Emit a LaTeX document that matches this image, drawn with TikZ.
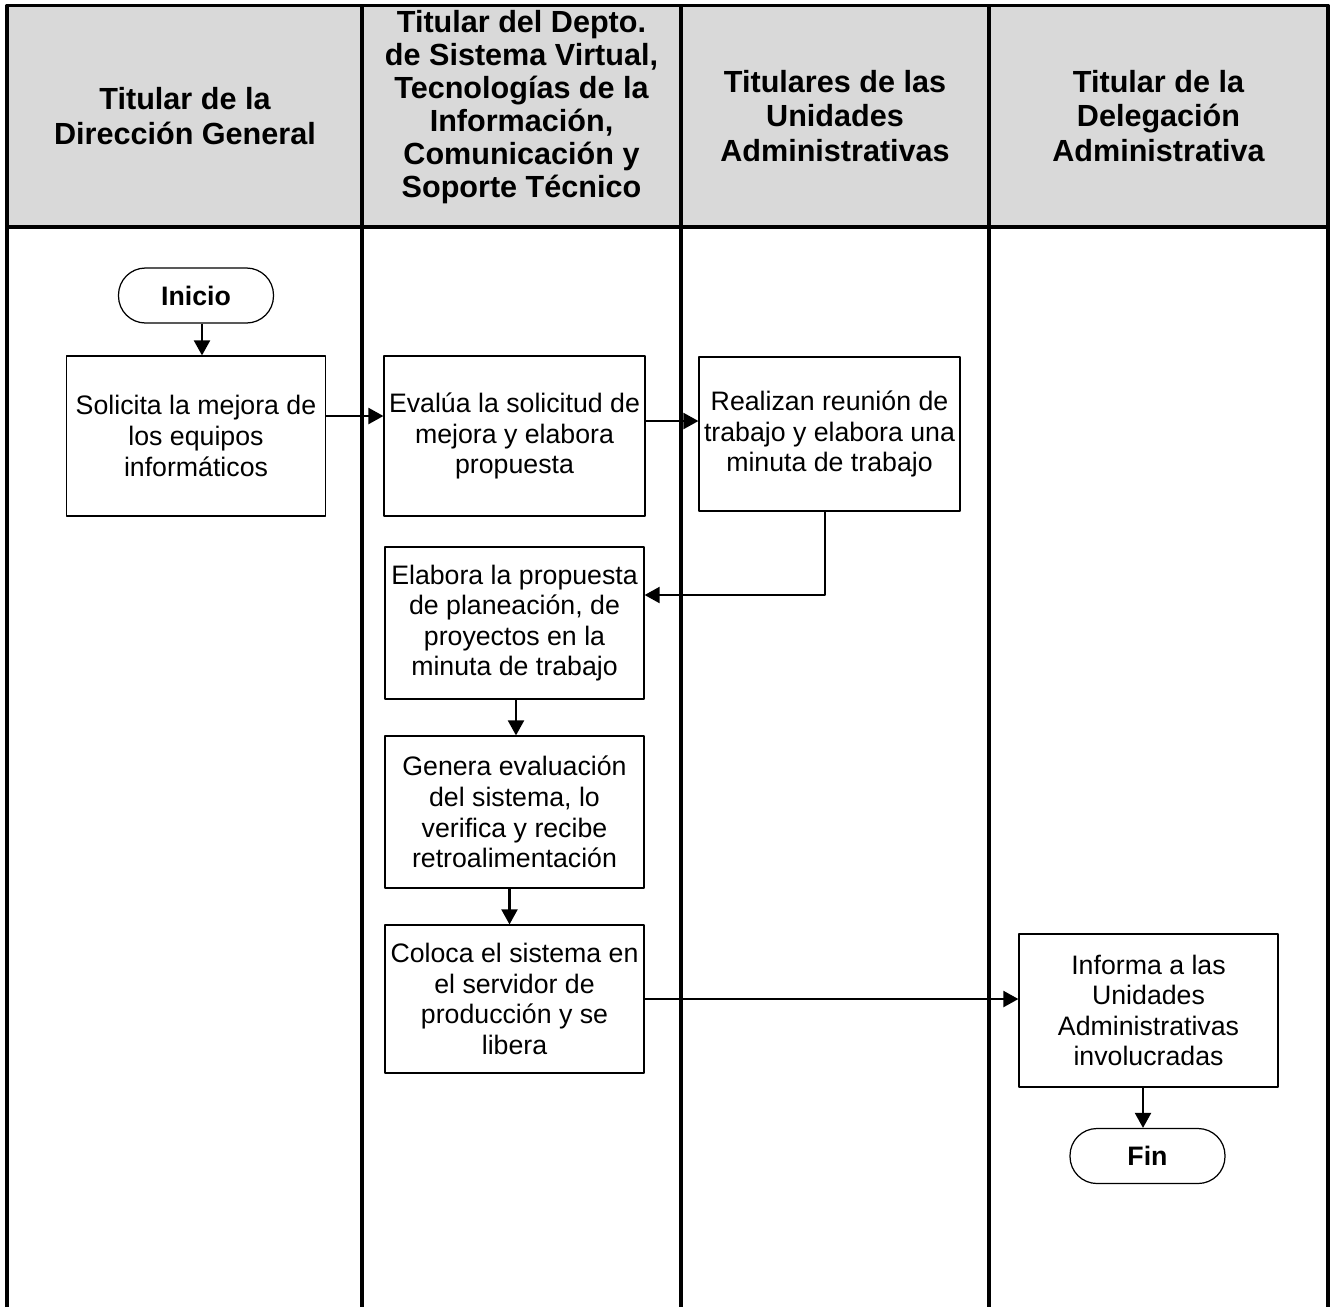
\documentclass[tikz,border=0pt]{standalone}
\usepackage{fontspec}
\setmainfont{Liberation Sans}
\usetikzlibrary{arrows.meta}
\definecolor{cabecera}{HTML}{D9D9D9}

\begin{document}
\begin{tikzpicture}[>={Triangle[length=1.5mm,width=1.6mm]}, line join=round, font=\fontsize{7.6}{8.7}\selectfont,
		carril/.style={line width=0.9pt},
		titulo/.style={font=\fontsize{8.7}{9.9}\selectfont\bfseries, align=center},
		caja/.style={draw, line width=0.35pt, align=center, inner sep=0.5mm, minimum width=2.59cm, minimum height=#1},
		terminal/.style={draw, line width=0.35pt, rounded corners=2.7mm, minimum width=1.55cm, minimum height=0.55cm, font=\fontsize{7.6}{8.7}\selectfont\bfseries},
		flecha/.style={->, line width=0.6pt}]
		\useasboundingbox (0,0) rectangle (13.31,-13.07);
		% Carriles
		\fill[cabecera] (0.07,-0.055) rectangle (13.28,-2.27);
		\draw[carril] (0.07,-13.07) -- (0.07,-0.055) -- (13.28,-0.055) -- (13.28,-13.07);
		\draw[carril] (0.07,-2.27) -- (13.28,-2.27);
		\foreach \x in {3.62,6.81,9.89}
			\draw[carril] (\x,-0.055) -- (\x,-13.07);
		% Encabezados
		\node[titulo] (tdirgral) at (1.85,-1.16) {Titular de la\\Dirección General};
		\node[titulo, font=\fontsize{8.7}{9.35}\selectfont\bfseries] (tdepto) at (5.215,-1.07) {Titular del Depto.\\de Sistema Virtual,\\Tecnologías de la\\Información,\\Comunicación y\\Soporte Técnico};
		\node[titulo] (tunidades) at (8.35,-1.16) {Titulares de las\\Unidades\\Administrativas};
		\node[titulo] (tdelegacion) at (11.585,-1.16) {Titular de la\\Delegación\\Administrativa};
		% Actividades
		\node[terminal] (inicio) at (1.96,-2.955) {Inicio};
		\node[caja=1.60cm] (solicita) at (1.96,-4.36) {Solicita la mejora de\\los equipos\\informáticos};
		\node[caja=1.60cm] (evalua) at (5.145,-4.36) {Evalúa la solicitud de\\mejora y elabora\\propuesta};
		\node[caja=1.54cm] (reunion) at (8.295,-4.34) {Realizan reunión de\\trabajo y elabora una\\minuta de trabajo};
		\node[caja=1.52cm] (propuesta) at (5.145,-6.23) {Elabora la propuesta\\de planeación, de\\proyectos en la\\minuta de trabajo};
		\node[caja=1.52cm] (genera) at (5.145,-8.12) {Genera evaluación\\del sistema, lo\\verifica y recibe\\retroalimentación};
		\node[caja=1.48cm] (coloca) at (5.145,-9.99) {Coloca el sistema en\\el servidor de\\producción y se\\libera};
		\node[caja=1.53cm] (informa) at (11.485,-10.105) {Informa a las\\Unidades\\Administrativas\\involucradas};
		\node[terminal] (fin) at (11.475,-11.56) {Fin};
		% Conectores
		\draw[flecha] ([xshift=0.6mm]inicio.south) -- ([xshift=0.6mm]solicita.north);
		\draw[flecha] ([yshift=2mm]solicita.east) -- ([yshift=2mm]evalua.west);
		\draw[flecha] ([yshift=1.5mm]evalua.east) -- ([yshift=1.5mm]evalua.east -| reunion.west);
		\draw[flecha] ([xshift=-0.45mm]reunion.south) |- ([yshift=2.8mm]propuesta.east);
		\draw[flecha] ([xshift=0.15mm]propuesta.south) -- ([xshift=0.15mm]genera.north);
		\draw[flecha] ([xshift=-0.5mm]genera.south) -- ([xshift=-0.5mm]coloca.north);
		\draw[flecha] (coloca.east) -- (coloca.east -| informa.west);
		\draw[flecha] ([xshift=-0.55mm]informa.south) -- ([xshift=-0.55mm]informa.south |- fin.north);
	\end{tikzpicture}
\end{document}
